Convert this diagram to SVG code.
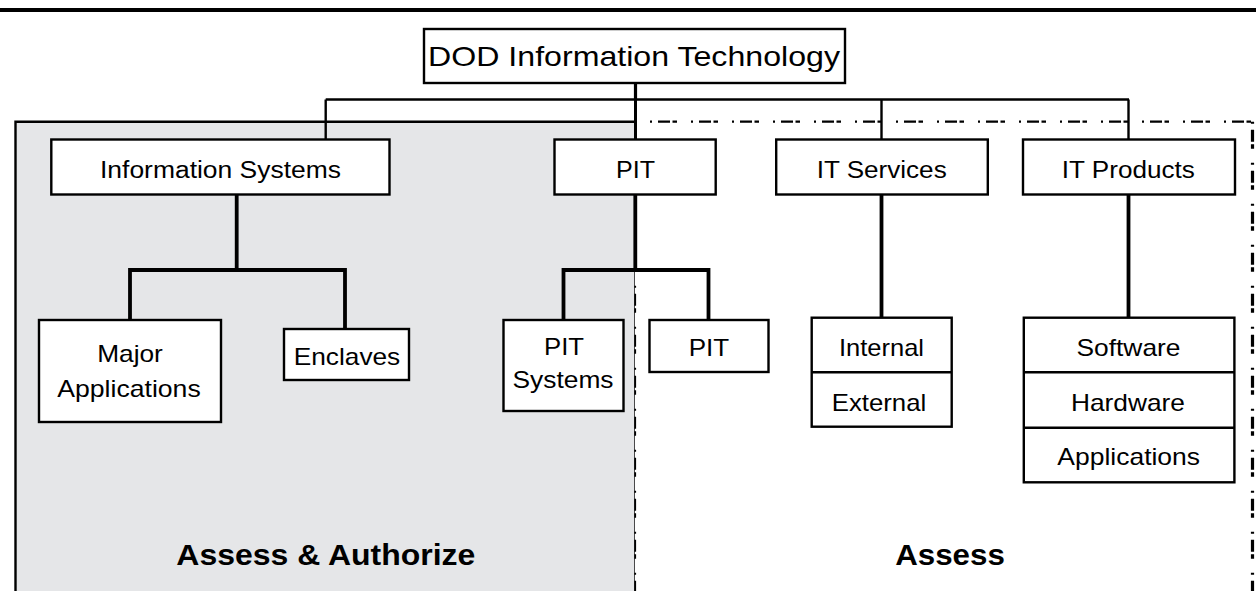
<svg xmlns="http://www.w3.org/2000/svg" width="1256" height="591" viewBox="0 0 1256 591">
<style>
  .box { fill: #ffffff; stroke: #000000; stroke-width: 2.4; }
  .t { font-family: "Liberation Sans", Arial, sans-serif; font-size: 23.5px; fill: #000000; text-anchor: middle; }
  .t2 { font-family: "Liberation Sans", Arial, sans-serif; font-size: 24px; fill: #000000; text-anchor: middle; }
  .big { font-family: "Liberation Sans", Arial, sans-serif; font-size: 28px; fill: #000000; text-anchor: middle; }
  .lbl { font-family: "Liberation Sans", Arial, sans-serif; font-size: 30px; font-weight: bold; fill: #000000; text-anchor: middle; }
  .c1 { fill: none; stroke: #000000; stroke-width: 2.4; }
  .c2 { fill: none; stroke: #000000; stroke-width: 3.8; }
  .dd { fill: none; stroke: #000000; stroke-dasharray: 2 6 12 2.5 4.5 14; }
</style>
<rect x="0" y="0" width="1256" height="591" fill="#ffffff"/>
<line x1="0" y1="10" x2="1256" y2="10" stroke="#000000" stroke-width="4.2"/>

<g id="region-assess-authorize">
  <rect x="15.5" y="121.7" width="619" height="475" fill="#e5e6e8"/>
  <path d="M15.5,595 V121.7 H635" fill="none" stroke="#000000" stroke-width="2.4"/>
  <line x1="634.5" y1="121.7" x2="634.5" y2="595" stroke="#000000" stroke-width="0.7"/>
  <line x1="635.2" y1="121.7" x2="635.2" y2="595" class="dd" stroke-width="1.8"/>
  <text class="lbl" x="325.8" y="565" textLength="299" lengthAdjust="spacingAndGlyphs">Assess &amp; Authorize</text>
</g>

<g id="region-assess">
  <line x1="650" y1="121.7" x2="1252.5" y2="121.7" class="dd" stroke-width="2.2"/>
  <line x1="1252.5" y1="121.7" x2="1252.5" y2="595" class="dd" stroke-width="3.2"/>
  <text class="lbl" x="950" y="564.5" textLength="109.6" lengthAdjust="spacingAndGlyphs">Assess</text>
</g>

<g id="connectors">
  <line x1="635.5" y1="83" x2="635.5" y2="99.5" class="c2" style="stroke-width:3.2"/>
  <line x1="325.7" y1="99.5" x2="1129" y2="99.5" class="c1"/>
  <line x1="325.7" y1="99.5" x2="325.7" y2="139.5" class="c1"/>
  <line x1="635.5" y1="99.5" x2="635.5" y2="139.5" class="c1" style="stroke-width:3"/>
  <line x1="881.5" y1="99.5" x2="881.5" y2="139.5" class="c1"/>
  <line x1="1128.5" y1="99.5" x2="1128.5" y2="139.5" class="c1"/>

  <line x1="236.7" y1="194.5" x2="236.7" y2="270" class="c2"/>
  <path d="M130,320 V270 H345 V329" class="c2"/>

  <line x1="635.3" y1="194.5" x2="635.3" y2="270" class="c2"/>
  <path d="M563.5,320 V270 H708.5 V320" class="c2"/>

  <line x1="881.5" y1="194.5" x2="881.5" y2="317.7" class="c2"/>
  <line x1="1128.5" y1="194.5" x2="1128.5" y2="317.7" class="c2"/>
</g>

<g id="node-dod-it">
  <rect class="box" x="424" y="29" width="421" height="54"/>
  <text class="big" x="634" y="66" textLength="412" lengthAdjust="spacingAndGlyphs">DOD Information Technology</text>
</g>

<g id="node-information-systems">
  <rect class="box" x="51.3" y="139.5" width="338.2" height="55"/>
  <text class="t" x="220.5" y="178.3" textLength="241" lengthAdjust="spacingAndGlyphs">Information Systems</text>
</g>

<g id="node-pit">
  <rect class="box" x="554.5" y="139.5" width="161.2" height="55"/>
  <text class="t" x="635.5" y="178.3" textLength="39" lengthAdjust="spacingAndGlyphs">PIT</text>
</g>

<g id="node-it-services">
  <rect class="box" x="776.2" y="139.5" width="211.6" height="55"/>
  <text class="t" x="881.7" y="178.3" textLength="130" lengthAdjust="spacingAndGlyphs">IT Services</text>
</g>

<g id="node-it-products">
  <rect class="box" x="1023" y="139.5" width="212" height="55"/>
  <text class="t" x="1128.3" y="178.3" textLength="133" lengthAdjust="spacingAndGlyphs">IT Products</text>
</g>

<g id="node-major-applications">
  <rect class="box" x="39" y="320" width="182" height="102"/>
  <text class="t2" x="130" y="361.7" textLength="65.7" lengthAdjust="spacingAndGlyphs">Major</text>
  <text class="t2" x="129" y="396.7" textLength="143.4" lengthAdjust="spacingAndGlyphs">Applications</text>
</g>

<g id="node-enclaves">
  <rect class="box" x="284" y="329" width="125" height="51"/>
  <text class="t2" x="347" y="365" textLength="106.5" lengthAdjust="spacingAndGlyphs">Enclaves</text>
</g>

<g id="node-pit-systems">
  <rect class="box" x="503.5" y="320" width="120" height="91"/>
  <text class="t2" x="564" y="355" textLength="40" lengthAdjust="spacingAndGlyphs">PIT</text>
  <text class="t2" x="563" y="388.3" textLength="101" lengthAdjust="spacingAndGlyphs">Systems</text>
</g>

<g id="node-pit-sub">
  <rect class="box" x="649.5" y="320" width="119" height="52"/>
  <text class="t2" x="709" y="356" textLength="40.5" lengthAdjust="spacingAndGlyphs">PIT</text>
</g>

<g id="node-internal-external">
  <rect class="box" x="811.7" y="317.7" width="140" height="109"/>
  <line x1="811.7" y1="372.3" x2="951.7" y2="372.3" stroke="#000000" stroke-width="2.4"/>
  <text class="t2" x="881.5" y="356" textLength="85" lengthAdjust="spacingAndGlyphs">Internal</text>
  <text class="t2" x="879" y="411" textLength="94.5" lengthAdjust="spacingAndGlyphs">External</text>
</g>

<g id="node-software-hardware-applications">
  <rect class="box" x="1023.8" y="317.7" width="210.6" height="164.6"/>
  <line x1="1023.8" y1="372.3" x2="1234.4" y2="372.3" stroke="#000000" stroke-width="2.4"/>
  <line x1="1023.8" y1="427.7" x2="1234.4" y2="427.7" stroke="#000000" stroke-width="2.4"/>
  <text class="t2" x="1128.5" y="356" textLength="104" lengthAdjust="spacingAndGlyphs">Software</text>
  <text class="t2" x="1128" y="411" textLength="114" lengthAdjust="spacingAndGlyphs">Hardware</text>
  <text class="t2" x="1128.7" y="465" textLength="142.7" lengthAdjust="spacingAndGlyphs">Applications</text>
</g>
</svg>
